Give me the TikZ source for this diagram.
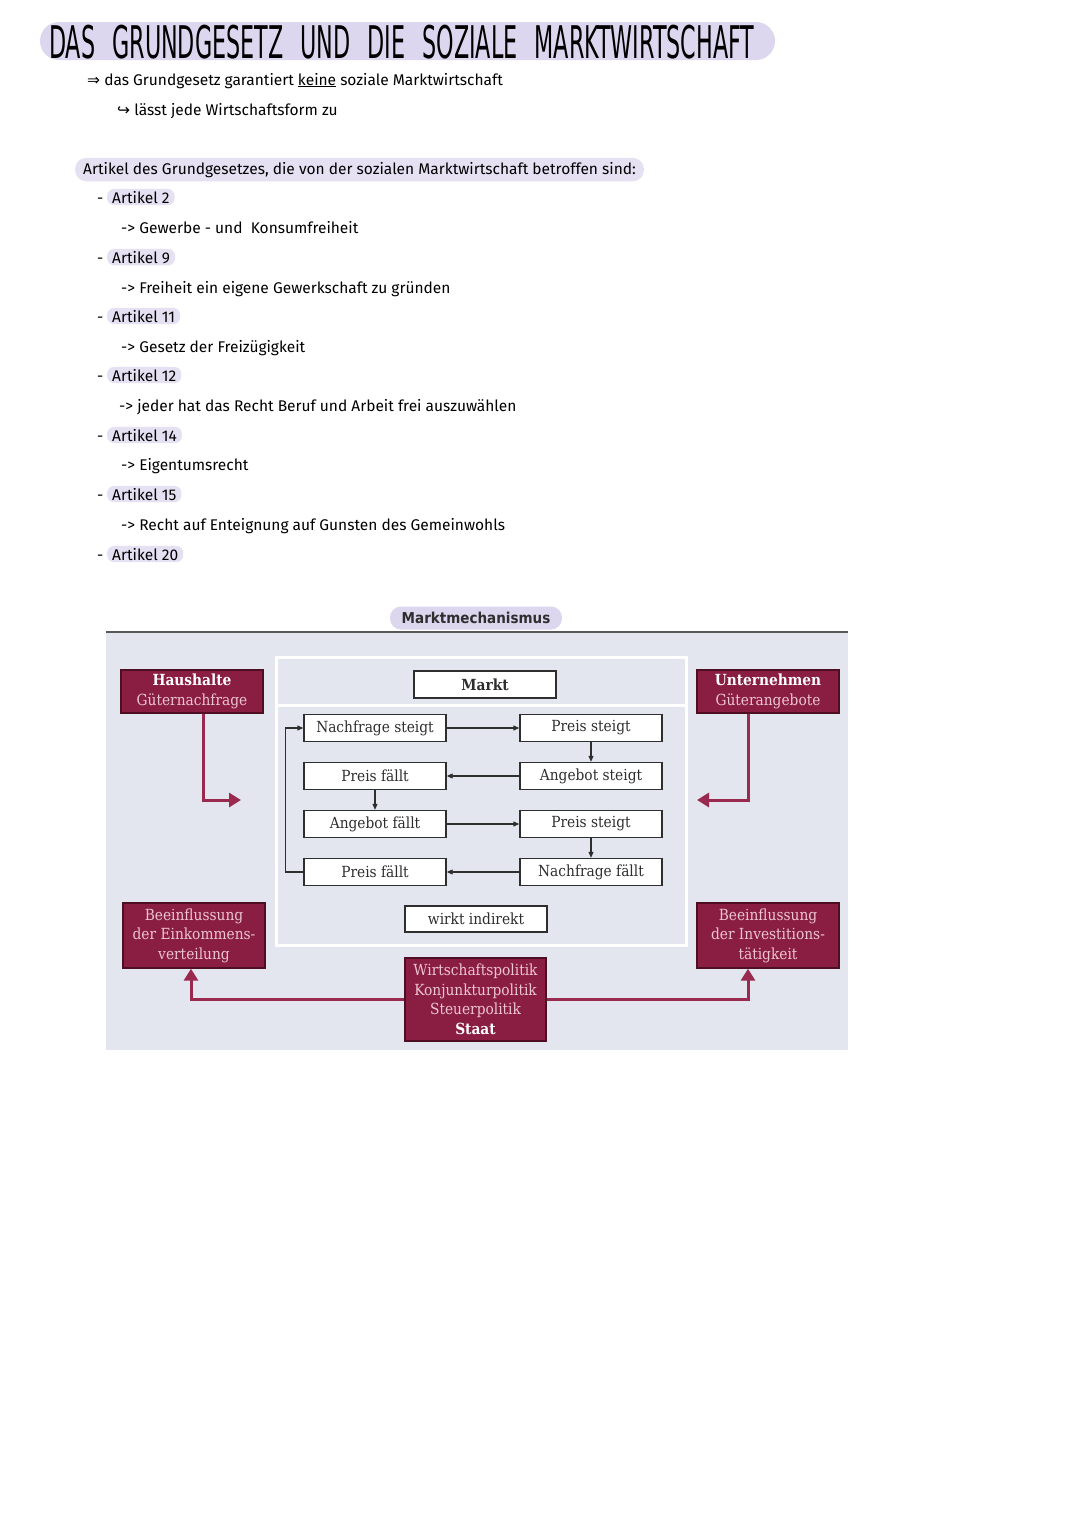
\documentclass[tikz,border=0pt]{standalone}
\usepackage{fontspec}
\usepackage{tikz}
\usetikzlibrary{arrows.meta, positioning}
\newfontfamily\handfont{Fira Sans}
\newfontfamily\titlefont{DejaVu Sans Condensed}
\newfontfamily\symfont{DejaVu Sans}
\newfontfamily\diagfont{DejaVu Serif Condensed}
\definecolor{lilac}{HTML}{DCD6EE}
\definecolor{lilaclight}{HTML}{E5E1F3}
\definecolor{panelbg}{HTML}{E3E6EE}
\definecolor{maroon}{HTML}{8A1E42}
\definecolor{maroondark}{HTML}{4E0E24}
\definecolor{arrowred}{HTML}{99294F}
\definecolor{palepink}{HTML}{EDC6D2}
\definecolor{boxline}{HTML}{2E2E2E}

\begin{document}
\begin{tikzpicture}[
    x=1pt, y=-1pt,
    hand/.style={font=\handfont\fontsize{15.5}{17}\selectfont, anchor=base west, inner sep=1pt},
    pill/.style={hand, fill=lilaclight, rounded corners=7pt, inner xsep=5pt, inner ysep=2pt},
    mbox/.style={rectangle, draw=boxline, fill=white, line width=1.4pt, minimum width=142pt, minimum height=27pt, inner sep=0pt, text=boxline, font=\diagfont\fontsize{15.3}{16}\selectfont},
    rbox/.style={rectangle, draw=maroondark, fill=maroon, line width=1.4pt, minimum width=142pt, inner sep=0pt, align=center, text=palepink, font=\diagfont\fontsize{15.3}{19.5}\selectfont},
    flow/.style={-{Triangle[length=6pt, width=5pt]}, line width=1.1pt, color=boxline},
    redarr/.style={-{Triangle[length=12pt, width=14pt]}, line width=3pt, color=arrowred}
]
\useasboundingbox (0,0) rectangle (1080,1527);
\fill[white] (0,0) rectangle (1080,1527);

% heading
\node[fill=lilac, rounded corners=19pt, minimum width=735pt, minimum height=38pt] (titlebar) at (407.5,41) {};
\node[anchor=west, inner sep=0pt, font=\titlefont\fontsize{45}{45}\selectfont] (title) at (49,42)
    {\scalebox{0.55}[1]{DAS\hspace{31pt}GRUNDGESETZ\hspace{31pt}UND\hspace{31pt}DIE\hspace{31pt}SOZIALE\hspace{31pt}MARKTWIRTSCHAFT}};

\node[hand] (note1) at (86,85) {{\symfont ⇒} das Grundgesetz garantiert \underline{keine} soziale Marktwirtschaft};
\node[hand] (note2) at (116,115) {{\symfont ↪} lässt jede Wirtschaftsform zu};

\node[pill, rounded corners=11pt, inner xsep=8pt, inner ysep=4pt] (intro) at (75,174)
    {Artikel des Grundgesetzes, die von der sozialen Marktwirtschaft betroffen sind:};

% articles
\node[hand] (d2) at (96,203) {-};
\node[pill] (a2) at (107,203) {Artikel 2};
\node[hand] (t2) at (120,233) {-> Gewerbe - und \ Konsumfreiheit};

\node[hand] (d9) at (96,263) {-};
\node[pill] (a9) at (107,263) {Artikel 9};
\node[hand] (t9) at (120,293) {-> Freiheit ein eigene Gewerkschaft zu gründen};

\node[hand] (d11) at (96,322) {-};
\node[pill] (a11) at (107,322) {Artikel 11};
\node[hand] (t11) at (120,352) {-> Gesetz der Freizügigkeit};

\node[hand] (d12) at (96,381) {-};
\node[pill] (a12) at (107,381) {Artikel 12};
\node[hand] (t12) at (118,411) {-> jeder hat das Recht Beruf und Arbeit frei auszuwählen};

\node[hand] (d14) at (96,441) {-};
\node[pill] (a14) at (107,441) {Artikel 14};
\node[hand] (t14) at (120,470) {-> Eigentumsrecht};

\node[hand] (d15) at (96,500) {-};
\node[pill] (a15) at (107,500) {Artikel 15};
\node[hand] (t15) at (120,530) {-> Recht auf Enteignung auf Gunsten des Gemeinwohls};

\node[hand] (d20) at (96,560) {-};
\node[pill] (a20) at (107,560) {Artikel 20};

% market diagram
\fill[panelbg] (106,632) rectangle (848,1050);
\draw[boxline!80, line width=2pt] (106,632) -- (848,632);
\draw[white, line width=3pt] (276,657) rectangle (686,945);
\draw[white, line width=3pt] (276,705) -- (686,705);

\node[fill=lilac, rounded corners=11pt, minimum width=172pt, minimum height=23pt, inner sep=0pt,
      font=\titlefont\bfseries\fontsize{15}{16}\selectfont, text=boxline] (mm) at (476,618) {Marktmechanismus};

\node[mbox] (markt) at (485,684.5) {\bfseries Markt};
\node[mbox] (nsteigt) at (375,728) {Nachfrage steigt};
\node[mbox] (psteigt) at (591,728) {Preis steigt};
\node[mbox] (pfaellt) at (375,776) {Preis fällt};
\node[mbox] (asteigt) at (591,776) {Angebot steigt};
\node[mbox] (afaellt) at (375,824) {Angebot fällt};
\node[mbox] (psteigtb) at (591,824) {Preis steigt};
\node[mbox] (pfaelltb) at (375,872) {Preis fällt};
\node[mbox] (nfaellt) at (591,872) {Nachfrage fällt};
\node[mbox, minimum height=26pt] (indirekt) at (476,919) {wirkt indirekt};

\node[rbox, minimum height=43pt] (haushalte) at (192,691.5) {{\bfseries\color{white}Haushalte}\\Güternachfrage};
\node[rbox, minimum height=43pt] (unternehmen) at (768,691.5) {{\bfseries\color{white}Unternehmen}\\Güterangebote};
\node[rbox, minimum height=65pt] (einkommen) at (194,935.5) {Beeinflussung\\der Einkommens-\\verteilung};
\node[rbox, minimum height=65pt] (invest) at (768,935.5) {Beeinflussung\\der Investitions-\\tätigkeit};
\node[rbox, minimum width=141pt, minimum height=83pt] (staat) at (475.5,999.5)
    {Wirtschaftspolitik\\Konjunkturpolitik\\Steuerpolitik\\{\bfseries\color{white}Staat}};

\coordinate (hhend) at (241,800);
\coordinate (unend) at (697,800);

\draw[flow] (nsteigt) -- (psteigt);
\draw[flow] (psteigt) -- (asteigt);
\draw[flow] (asteigt) -- (pfaellt);
\draw[flow] (pfaellt) -- (afaellt);
\draw[flow] (afaellt) -- (psteigtb);
\draw[flow] (psteigtb) -- (nfaellt);
\draw[flow] (nfaellt) -- (pfaelltb);
\draw[flow] (pfaelltb.west) -- ++(-18,0) |- (nsteigt.west);

\draw[redarr] ([xshift=11pt]haushalte.south) |- (hhend);
\draw[redarr] ([xshift=-20pt]unternehmen.south) |- (unend);
\draw[redarr] (staat.west) -| ([xshift=-3pt]einkommen.south);
\draw[redarr] (staat.east) -| ([xshift=-20pt]invest.south);

\end{tikzpicture}
\end{document}
